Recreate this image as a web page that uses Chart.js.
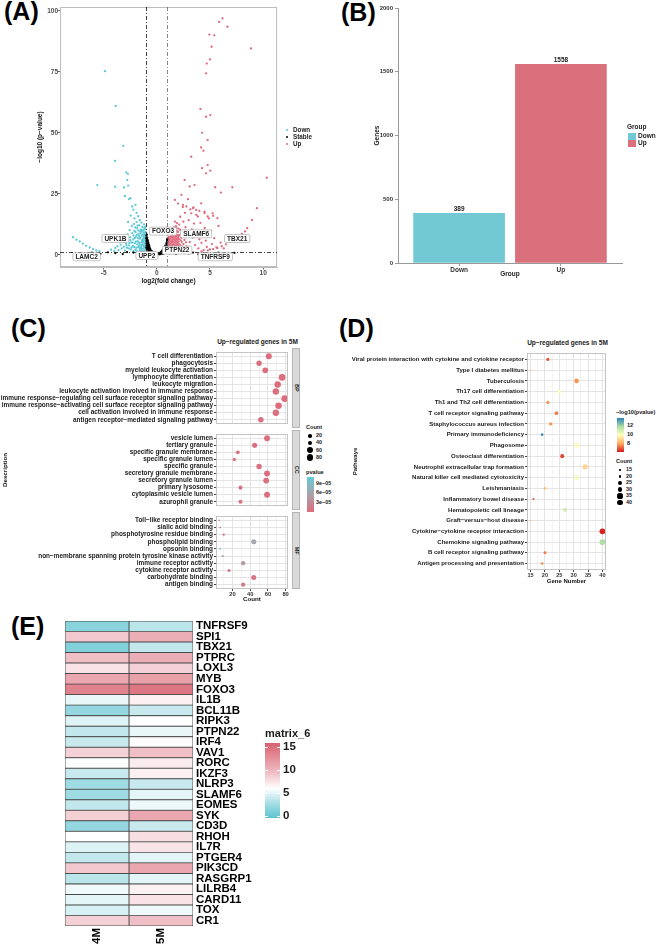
<!DOCTYPE html>
<html>
<head>
<meta charset="utf-8">
<title>Figure</title>
<script src="https://cdn.jsdelivr.net/npm/chart.js@4.4.1/dist/chart.umd.min.js"></script>
<style>
  html, body { margin: 0; padding: 0; background: #fff; }
  body { position: relative; width: 660px; height: 947px; overflow: hidden; font-family: "Liberation Sans", Arial, sans-serif; }
  canvas { position: absolute; }
  .t { position: absolute; font-weight: bold; white-space: nowrap; color: #1a1a1a; }
  .tag { position: absolute; font-weight: bold; font-size: 25px; line-height: 25px; color: #000; }
  .bar { position: absolute; }
</style>
</head>
<body>
<div class="tag" style="left:4px;top:-1px">(A)</div>
<div class="tag" style="left:341px;top:0px">(B)</div>
<div class="tag" style="left:11px;top:316px">(C)</div>
<div class="tag" style="left:339px;top:316px">(D)</div>
<div class="tag" style="left:11px;top:614px">(E)</div>

<canvas id="cA" width="252" height="286" style="left:30px;top:0px"></canvas>
<canvas id="cB" width="260" height="279" style="left:370px;top:0px"></canvas>
<canvas id="cBP" width="292" height="80" style="left:0px;top:348px"></canvas>
<canvas id="cCC" width="292" height="80" style="left:0px;top:430px"></canvas>
<canvas id="cMF" width="292" height="92" style="left:0px;top:512px"></canvas>
<canvas id="cD" width="260" height="237" style="left:350px;top:349px"></canvas>
<canvas id="cE" width="275" height="347" style="left:0px;top:600px"></canvas>

<script>
// ---------- (A) volcano ----------
const downPoints = [
  [-4.88, 75.3], [-3.86, 61.0], [-3.15, 44.7], [-3.92, 38.5], [-5.60, 28.6], [-2.87, 33.8],
  [-2.72, 33.2], [-2.78, 30.7], [-2.69, 28.4], [-3.09, 27.6], [-3.92, 27.9], [-2.47, 23.2],
  [-3.00, 24.1], [-2.31, 19.8], [-2.00, 20.5], [-2.60, 22.8], [-2.20, 18.5], [-1.90, 17.2],
  [-2.45, 16.1], [-1.75, 15.8], [-2.10, 14.9], [-1.60, 14.2], [-2.70, 13.5], [-1.45, 13.2],
  [-7.87, 7.2], [-7.55, 6.2], [-7.25, 5.5], [-6.95, 4.6], [-6.64, 3.7], [-6.30, 3.0],
  [-6.00, 2.3], [-5.70, 1.8], [-5.40, 1.5], [-4.30, 2.1], [-4.00, 1.6], [-3.90, 2.8],
  [-3.70, 3.5], [-3.60, 1.9], [-3.40, 4.2], [-3.30, 2.6], [-3.20, 5.4], [-3.10, 3.3],
  [-3.00, 1.8], [-2.95, 6.8], [-2.90, 4.6], [-2.80, 2.9], [-2.75, 8.4], [-2.70, 5.7],
  [-2.60, 3.9], [-2.55, 10.1], [-2.50, 7.2], [-2.45, 2.2], [-2.40, 5.1], [-2.35, 11.8],
  [-2.30, 8.9], [-2.25, 3.6], [-2.20, 6.3], [-2.15, 12.6], [-2.10, 9.8], [-2.05, 4.7],
  [-2.00, 2.0], [-1.95, 7.5], [-1.90, 13.4], [-1.85, 10.9], [-1.80, 5.6], [-1.75, 3.1],
  [-1.70, 8.6], [-1.65, 12.1], [-1.60, 6.6], [-1.55, 4.2], [-1.50, 10.3], [-1.45, 2.4],
  [-1.40, 7.9], [-1.35, 11.4], [-1.30, 5.3], [-1.25, 3.5], [-1.20, 9.1], [-1.15, 6.9],
  [-1.10, 2.9], [-1.08, 4.6], [-1.05, 8.1], [-1.30, 1.7], [-1.60, 1.9], [-1.90, 1.6],
  [-2.20, 1.5], [-1.20, 12.5], [-1.50, 8.9], [-1.80, 12.0], [-1.10, 10.6], [-1.35, 9.6],
  [-1.70, 5.0], [-2.00, 9.3], [-1.25, 7.4], [-1.12, 1.8], [-1.02, 3.8], [-1.05, 6.0],
  [-1.15, 4.9], [-1.02, 2.4], [-1.22, 5.9], [-1.40, 3.9], [-1.40, 1.5],
  [-1.03, 5.2], [-1.04, 7.1], [-1.06, 9.4], [-1.07, 11.5], [-1.09, 3.3], [-1.13, 8.6],
  [-1.16, 11.0], [-1.18, 3.9], [-1.19, 7.9], [-1.23, 10.2], [-1.27, 2.6], [-1.28, 6.4],
  [-1.32, 8.4], [-1.33, 4.4], [-1.38, 6.0], [-1.42, 10.0], [-1.44, 5.2], [-1.48, 3.1],
  [-1.52, 7.0], [-1.56, 9.6], [-1.58, 2.7], [-1.63, 4.9], [-1.66, 7.7], [-1.68, 3.6],
  [-1.73, 10.0], [-1.78, 6.8], [-1.83, 4.3], [-1.87, 8.2], [-1.93, 2.9], [-1.97, 5.4],
  [-2.03, 11.2], [-2.07, 6.9], [-2.12, 3.1], [-2.18, 8.0], [-2.28, 5.0], [-2.38, 3.0],
  [-2.48, 6.0], [-2.58, 4.8], [-2.65, 2.6], [-2.85, 3.9]
];
const stablePoints = [
  [-0.98, 7.8], [-0.95, 6.5], [-0.92, 5.3], [-0.90, 7.0], [-0.88, 4.2], [-0.85, 6.0],
  [-0.82, 3.4], [-0.80, 5.1], [-0.77, 2.6], [-0.75, 4.3], [-0.72, 1.9], [-0.70, 3.5],
  [-0.66, 2.7], [-0.62, 1.5], [-0.60, 2.2], [-0.55, 1.1], [-0.50, 1.6], [-0.45, 0.8],
  [-0.40, 1.2], [-0.35, 0.5], [-0.30, 0.9], [-0.25, 0.3], [-0.20, 0.6], [-0.15, 0.2],
  [-0.10, 0.4], [0.00, 0.1], [0.10, 0.3], [0.20, 0.5], [0.25, 0.2], [0.30, 0.8],
  [0.35, 0.4], [0.40, 1.2], [0.45, 0.7], [0.50, 1.7], [0.55, 1.0], [0.60, 2.3],
  [0.65, 1.4], [0.70, 3.0], [0.75, 2.0], [0.80, 3.8], [0.85, 2.6], [0.90, 4.5],
  [0.95, 3.2], [0.98, 5.4], [0.92, 1.6], [-0.97, 1.0], [-0.93, 2.4], [-0.87, 1.3],
  [-0.99, 3.0], [-0.96, 4.6], [-0.94, 8.3], [0.96, 6.1], [0.15, 0.7], [0.60, 0.4],
  [-0.99, 6.8], [-0.97, 5.6], [-0.95, 3.9], [-0.93, 6.2], [-0.91, 3.0], [-0.89, 5.6],
  [-0.86, 4.8], [-0.84, 2.2], [-0.83, 4.6], [-0.79, 3.9], [-0.78, 1.4], [-0.74, 3.0],
  [-0.71, 2.4], [-0.68, 1.1], [-0.64, 2.0], [-0.58, 1.4], [-0.52, 0.7], [-0.48, 1.2],
  [-0.42, 0.4], [0.05, 0.5], [0.33, 0.3], [0.42, 0.5], [0.52, 0.6], [0.58, 1.3],
  [0.68, 2.0], [0.72, 1.1], [0.78, 2.8], [0.83, 1.8], [0.88, 3.5], [0.94, 2.3],
  [0.97, 4.2], [0.99, 6.6], [0.93, 5.0],
  [-7.20, 0.6], [-6.10, 0.9], [-5.30, 0.4], [-4.60, 1.0], [-3.90, 0.7], [-3.20, 0.3],
  [-2.80, 1.1], [-2.20, 0.9], [-1.80, 0.5], [-1.40, 1.0], [-1.20, 0.4], [1.20, 0.6],
  [1.50, 1.0], [1.80, 0.3], [2.20, 0.8], [2.60, 1.1], [3.00, 0.5], [3.40, 0.9],
  [3.90, 0.2], [4.40, 0.7], [5.00, 0.4], [5.80, 0.9], [6.50, 0.3], [7.30, 0.8]
];
const upPoints = [
  [1.05, 1.6], [1.05, 2.6], [1.05, 3.6], [1.05, 4.6], [1.08, 5.5], [1.10, 6.4], [1.12, 7.3],
  [1.30, 1.5], [1.30, 2.5], [1.28, 3.5], [1.30, 4.5], [1.32, 5.5], [1.30, 6.5], [1.33, 7.5], [1.35, 8.2],
  [1.55, 1.4], [1.55, 2.4], [1.52, 3.4], [1.56, 4.4], [1.54, 5.4], [1.57, 6.4], [1.55, 7.4], [1.60, 8.4],
  [1.80, 1.5], [1.80, 2.5], [1.78, 3.5], [1.82, 4.5], [1.80, 5.5], [1.83, 6.5], [1.79, 7.5], [1.85, 8.3],
  [2.05, 1.4], [2.05, 2.4], [2.02, 3.4], [2.07, 4.4], [2.05, 5.4], [2.08, 6.4], [2.04, 7.4], [2.10, 8.1],
  [1.18, 2.0], [1.18, 3.0], [1.18, 4.0], [1.18, 5.0], [1.20, 6.0], [1.20, 7.0], [1.43, 2.0],
  [1.43, 3.0], [1.43, 4.0], [1.43, 5.0], [1.45, 6.0], [1.45, 7.0], [1.47, 8.0], [1.68, 2.0],
  [1.68, 3.0], [1.68, 4.0], [1.68, 5.0], [1.70, 6.0], [1.70, 7.0], [1.72, 8.0], [1.93, 2.0],
  [1.93, 3.0], [1.93, 4.0], [1.93, 5.0], [1.95, 6.0], [1.95, 7.0], [1.97, 8.0], [1.10, 1.5],
  [2.15, 1.9], [2.20, 4.0], [2.25, 5.9], [1.65, 9.0], [1.90, 9.8], [2.05, 10.7], [1.55, 10.0],
  [1.80, 11.7], [2.30, 8.7], [2.60, 9.9], [2.75, 5.1], [2.50, 4.4],
  [1.70, 13.6], [1.90, 13.0], [2.10, 12.4], [1.60, 11.2], [1.85, 10.9], [2.20, 10.2], [1.75, 9.6],
  [2.00, 9.3], [2.30, 7.0], [2.35, 5.2], [2.40, 3.3], [2.45, 1.6],
  [2.60, 6.1], [2.70, 11.3], [2.80, 3.4], [2.90, 8.7], [3.00, 14.2], [3.10, 5.2], [3.20, 2.3],
  [3.30, 10.4], [3.40, 7.1], [3.50, 12.8], [3.60, 4.0], [3.70, 16.4], [3.80, 9.2], [3.90, 2.6],
  [4.00, 6.3], [4.10, 13.1], [4.20, 4.9], [4.30, 8.4], [4.40, 1.9], [4.50, 11.0], [4.60, 5.8],
  [4.70, 3.2], [4.80, 7.6], [4.90, 14.9], [5.00, 2.2], [5.10, 9.8], [5.20, 4.4], [5.40, 6.8],
  [5.60, 3.0], [5.80, 11.8], [6.00, 5.0], [6.30, 2.6], [6.60, 8.0], [2.50, 13.6], [2.65, 17.2],
  [3.15, 18.6], [2.20, 15.6], [2.45, 19.6], [3.45, 19.4], [4.00, 18.0], [4.50, 17.1], [5.30, 16.0],
  [4.20, 1.4], [4.80, 1.8], [5.30, 2.3], [5.70, 2.8], [6.10, 3.5], [6.50, 4.3], [6.90, 5.3],
  [7.30, 6.4], [7.70, 7.6], [8.00, 8.6], [8.30, 9.6], [8.50, 10.9], [8.95, 14.3],
  [6.17, 96.9], [5.86, 95.5], [6.64, 93.5], [4.94, 90.3], [5.40, 90.0], [8.86, 84.6], [5.15, 85.3],
  [5.00, 80.1], [4.70, 78.4], [4.63, 74.4], [4.10, 59.8], [5.03, 57.3], [4.63, 56.6], [4.26, 50.0],
  [4.78, 47.0], [4.17, 44.0], [3.24, 40.2], [4.38, 42.7], [4.26, 35.5], [5.03, 34.5], [4.63, 33.4],
  [10.34, 31.6], [2.62, 30.7], [4.78, 36.8], [3.55, 28.6], [3.09, 28.0], [7.10, 27.7], [5.49, 27.7],
  [6.02, 25.5], [2.31, 24.6], [2.93, 22.8], [4.17, 21.1], [9.41, 19.1], [5.25, 17.0], [1.70, 22.5],
  [2.00, 21.0], [2.47, 20.5], [2.78, 19.8], [3.40, 19.1], [3.70, 18.4], [4.48, 17.7], [4.78, 15.7],
  [3.86, 15.7], [3.24, 17.0], [5.70, 15.0]
];
const volcanoXTicks = [-5, 0, 5, 10];
const volcanoYTicks = [0, 25, 50, 75, 100];
const fcCut = [-1, 1];
const pCut = 1.3;
const geneTags = ['UPK1B', 'FOXO3', 'SLAMF6', 'TBX21', 'LAMC2', 'UPP2', 'PTPN22', 'TNFRSF9'];
const geneTagX = [-3.89, 0.59, 3.70, 7.56, -6.60, -0.93, 1.91, 5.50];
const geneTagY = [6.7, 9.7, 8.6, 6.7, -0.8, -0.3, 1.9, -0.8];

// ---------- (B) bar ----------
const groups = ['Down', 'Up'];
const groupCounts = [389, 1558];

// ---------- (C) GO dot plot ----------
const bpTerms = ['T cell differentiation', 'phagocytosis', 'myeloid leukocyte activation', 'lymphocyte differentiation',
  'leukocyte migration', 'leukocyte activation involved in immune response',
  'immune response\u2212regulating cell surface receptor signaling pathway',
  'immune response\u2212activating cell surface receptor signaling pathway',
  'cell activation involved in immune response', 'antigen receptor\u2212mediated signaling pathway'];
const bpCounts = [61, 50, 57, 76, 71, 69, 79, 72, 69, 52];
const bpP = [2e-6, 5e-6, 3e-6, 1e-6, 1e-6, 2e-6, 1e-6, 1e-6, 2e-6, 6e-6];
const ccTerms = ['vesicle lumen', 'tertiary granule', 'specific granule membrane', 'specific granule lumen',
  'specific granule', 'secretory granule membrane', 'secretory granule lumen', 'primary lysosome',
  'cytoplasmic vesicle lumen', 'azurophil granule'];
const ccCounts = [59, 45, 26, 22, 50, 59, 58, 29, 59, 29];
const ccP = [3e-6, 4e-6, 8e-6, 9e-6, 4e-6, 3e-6, 3e-6, 7e-6, 3e-6, 7e-6];
const mfTerms = ['Toll\u2212like receptor binding', 'sialic acid binding', 'phosphotyrosine residue binding',
  'phospholipid binding', 'opsonin binding', 'non\u2212membrane spanning protein tyrosine kinase activity',
  'immune receptor activity', 'cytokine receptor activity', 'carbohydrate binding', 'antigen binding'];
const mfCounts = [5, 6, 10, 44, 6, 9, 32, 16, 44, 32];
const mfP = [1e-5, 2.5e-5, 1e-5, 6e-5, 1.05e-4, 6.5e-5, 4.5e-5, 1.2e-5, 1e-5, 1.5e-5];
const goXTicks = [10, 20, 30, 40, 50, 60, 70, 80];
const goSizeKeys = [20, 40, 60, 80];
const goPKeys = [9e-5, 6e-5, 3e-5];

// ---------- (D) KEGG dot plot ----------
const keggTerms = ['Viral protein interaction with cytokine and cytokine receptor', 'Type I diabetes mellitus',
  'Tuberculosis', 'Th17 cell differentiation', 'Th1 and Th2 cell differentiation', 'T cell receptor signaling pathway',
  'Staphylococcus aureus infection', 'Primary immunodeficiency', 'Phagosome', 'Osteoclast differentiation',
  'Neutrophil extracellular trap formation', 'Natural killer cell mediated cytotoxicity', 'Leishmaniasis',
  'Inflammatory bowel disease', 'Hematopoietic cell lineage', 'Graft\u2212versus\u2212host disease',
  'Cytokine\u2212cytokine receptor interaction', 'Chemokine signaling pathway', 'B cell receptor signaling pathway',
  'Antigen processing and presentation'];
const keggCounts = [21, 15, 31, 25, 21, 24, 22, 19, 31, 26, 34, 31, 20, 16, 27, 15, 40, 40, 20, 19];
const keggLogP = [7.0, 8.6, 7.8, 10.0, 7.8, 7.5, 7.8, 13.5, 9.9, 6.8, 9.0, 10.3, 8.5, 6.8, 11.0, 8.5, 6.3, 11.8, 7.4, 7.7];
const keggXTicks = [15, 17.5, 20, 22.5, 25, 27.5, 30, 32.5, 35, 37.5, 40];
const keggSizeKeys = [15, 20, 25, 30, 35, 40];
const keggPKeys = [12, 10, 8];

// ---------- (E) heatmap ----------
const heatGenes = ['TNFRSF9', 'SPI1', 'TBX21', 'PTPRC', 'LOXL3', 'MYB', 'FOXO3', 'IL1B', 'BCL11B', 'RIPK3',
  'PTPN22', 'IRF4', 'VAV1', 'RORC', 'IKZF3', 'NLRP3', 'SLAMF6', 'EOMES', 'SYK', 'CD3D', 'RHOH', 'IL7R',
  'PTGER4', 'PIK3CD', 'RASGRP1', 'LILRB4', 'CARD11', 'TOX', 'CR1'];
const heatCols = ['4M', '5M'];
const expr4M = [1.5, 9, 1.2, 9.5, 7.5, 11, 13.5, 5.2, 2, 4.8, 3.8, 4, 8.5, 5.9, 4, 2.4, 2.4, 3.8, 8.6, 2, 6, 4.8, 3.8, 9, 3.5, 5.5, 5, 4.5, 8.5];
const expr5M = [3.5, 10.5, 3.8, 10.5, 8.5, 11.5, 14.5, 6.8, 4, 6, 5.2, 6.2, 9.5, 7, 6.8, 4, 5, 5.3, 11, 4, 7.8, 7.4, 5, 11, 5, 6.7, 7.5, 5.5, 9.5];
const heatKeys = [15, 10, 5, 0];

// ---------- colours ----------
const CYAN = '#5cc8d6', RED = '#e06a7c';
const goStops = [[0, '#e06b7c'], [5.5e-5, '#a9a3ab'], [1.1e-4, '#63cbd8']];
const keggStops = [[6.2, '#d7191c'], [8.1, '#fdae61'], [10, '#ffffbf'], [11.9, '#abdda4'], [13.8, '#2b83ba']];
const heatStops = [[-0.4, '#5cc3d0'], [3, '#ace0e6'], [6, '#ffffff'], [10, '#eeb5bd'], [15.9, '#d8616f']];

Chart.defaults.font.family = '"Liberation Sans", Arial, sans-serif';
Chart.defaults.animation = false;
Chart.defaults.events = [];
Chart.defaults.plugins.legend.display = false;
Chart.defaults.plugins.tooltip.enabled = false;

function hexRgb(h) { const n = parseInt(h.slice(1), 16); return [n >> 16, (n >> 8) & 255, n & 255]; }
function ramp(stops, v) {
  if (v <= stops[0][0]) return stops[0][1];
  for (let i = 1; i < stops.length; i++) {
    if (v <= stops[i][0]) {
      const t = (v - stops[i - 1][0]) / (stops[i][0] - stops[i - 1][0]);
      const a = hexRgb(stops[i - 1][1]), b = hexRgb(stops[i][1]);
      return 'rgb(' + a.map((c, k) => Math.round(c + (b[k] - c) * t)).join(',') + ')';
    }
  }
  return stops[stops.length - 1][1];
}
function rampCss(stops) {
  const lo = stops[0][0], hi = stops[stops.length - 1][0];
  return 'linear-gradient(to top,' + stops.map(s => s[1] + ' ' + ((s[0] - lo) / (hi - lo) * 100).toFixed(1) + '%').join(',') + ')';
}
const goRadius = n => Math.sqrt(0.64 + (n - 5) * 0.147);
const keggRadius = n => Math.sqrt(0.64 + (n - 15) * 0.31);

// fixed axis sizes so the panels line up like the original
const fixW = w => s => { s.width = w; s.paddingTop = 0; s.paddingBottom = 0; s.paddingLeft = 0; s.paddingRight = 0; };
const fixH = h => s => { s.height = h; s.paddingTop = 0; s.paddingBottom = 0; s.paddingLeft = 0; s.paddingRight = 0; };
const setTicks = arr => s => { s.ticks = arr.map(v => ({ value: v })); };

const framePlugin = {
  id: 'frame',
  afterDatasetsDraw(chart, args, opts) {
    const a = chart.chartArea, c = chart.ctx;
    c.save();
    c.strokeStyle = opts.color || '#bbb';
    c.lineWidth = 1;
    c.strokeRect(a.left + 0.5, a.top + 0.5, a.right - a.left - 1, a.bottom - a.top - 1);
    c.restore();
  }
};

function txt(s, x, cy, size, opt) {
  opt = opt || {};
  const d = document.createElement('div');
  d.className = 't';
  d.textContent = s;
  d.style.fontSize = size + 'px';
  d.style.lineHeight = size + 'px';
  d.style.top = (cy - size / 2) + 'px';
  d.style.left = x + 'px';
  if (opt.center) d.style.transform = 'translateX(-50%)';
  document.body.appendChild(d);
  return d;
}
function box(x, y, w, h, bg, extra) {
  const d = document.createElement('div');
  d.className = 'bar';
  Object.assign(d.style, { left: x + 'px', top: y + 'px', width: w + 'px', height: h + 'px', background: bg }, extra || {});
  document.body.appendChild(d);
  return d;
}

// ===== (A) volcano =====
const volcanoDeco = {
  id: 'volcanoDeco',
  afterDatasetsDraw(chart) {
    const { ctx, chartArea: a, scales: { x, y } } = chart;
    ctx.save();
    ctx.lineWidth = 0.8;
    ctx.setLineDash([4, 2, 1, 2]);
    fcCut.forEach((v, i) => {
      const px = Math.round(x.getPixelForValue(v)) + 0.5;
      ctx.strokeStyle = i ? '#666' : '#111';
      ctx.beginPath(); ctx.moveTo(px, a.top); ctx.lineTo(px, a.bottom); ctx.stroke();
    });
    const py = Math.round(y.getPixelForValue(pCut)) + 0.5;
    ctx.strokeStyle = '#111';
    ctx.beginPath(); ctx.moveTo(a.left, py); ctx.lineTo(a.right, py); ctx.stroke();
    ctx.setLineDash([]);
    ctx.font = 'bold 6.5px "Liberation Sans", Arial, sans-serif';
    ctx.textAlign = 'center';
    ctx.textBaseline = 'middle';
    geneTags.forEach((g, i) => {
      const cx = x.getPixelForValue(geneTagX[i]), cy = y.getPixelForValue(geneTagY[i]);
      const w = ctx.measureText(g).width + 5, h = 8;
      ctx.fillStyle = '#fff';
      ctx.strokeStyle = '#aaa';
      ctx.lineWidth = 0.7;
      ctx.beginPath();
      ctx.roundRect(cx - w / 2, cy - h / 2, w, h, 1.5);
      ctx.fill(); ctx.stroke();
      ctx.fillStyle = '#222';
      ctx.fillText(g, cx, cy + 0.3);
    });
    ctx.restore();
  }
};
const pts = arr => arr.map(p => ({ x: p[0], y: p[1] }));
new Chart(document.getElementById('cA'), {
  type: 'scatter',
  data: {
    datasets: [
      { label: 'Stable', data: pts(stablePoints), backgroundColor: '#000', pointRadius: 1.15, borderWidth: 0 },
      { label: 'Down', data: pts(downPoints), backgroundColor: CYAN, pointRadius: 1.15, borderWidth: 0 },
      { label: 'Up', data: pts(upPoints), backgroundColor: RED, pointRadius: 1.15, borderWidth: 0 }
    ]
  },
  options: {
    responsive: false,
    layout: { padding: { top: 7, right: 5 } },
    scales: {
      x: {
        type: 'linear', min: -9.1, max: 11.3, afterBuildTicks: setTicks(volcanoXTicks), afterFit: fixH(19),
        grid: { drawOnChartArea: false, tickLength: 2.5, color: '#666' }, border: { color: '#bbb' },
        ticks: { font: { size: 6.5, weight: 'bold' }, color: '#4d4d4d', padding: 0, maxRotation: 0 },
        title: { display: true, text: 'log2(fold change)', font: { size: 6.5, weight: 'bold' }, color: '#111', padding: { top: 0, bottom: 1 } }
      },
      y: {
        type: 'linear', min: -5, max: 101.6, afterBuildTicks: setTicks(volcanoYTicks), afterFit: fixW(30),
        grid: { drawOnChartArea: false, tickLength: 2, color: '#666' }, border: { color: '#bbb' },
        ticks: { font: { size: 6.5, weight: 'bold' }, color: '#4d4d4d', padding: 0 },
        title: { display: true, text: '\u2212log10 (p\u2212value)', font: { size: 6.5, weight: 'bold' }, color: '#111', padding: { top: 6, bottom: 0 } }
      }
    },
    plugins: { frame: { color: '#bdbdbd' } }
  },
  plugins: [framePlugin, volcanoDeco]
});
// legend A
[['Down', CYAN], ['Stable', '#000'], ['Up', RED]].forEach((it, i) => {
  const cy = 130 + i * 7.2;
  box(286, cy - 1, 2, 2, it[1], { borderRadius: '50%' });
  txt(it[0], 293, cy, 6.3);
});

// ===== (B) bar =====
const barLabels = {
  id: 'barLabels',
  afterDatasetsDraw(chart) {
    const { ctx } = chart;
    ctx.save();
    ctx.font = 'bold 6.5px "Liberation Sans", Arial, sans-serif';
    ctx.fillStyle = '#222';
    ctx.textAlign = 'center';
    ctx.textBaseline = 'bottom';
    chart.getDatasetMeta(0).data.forEach((el, i) => ctx.fillText(groupCounts[i], el.x, el.y - 0.5));
    ctx.restore();
  }
};
new Chart(document.getElementById('cB'), {
  type: 'bar',
  data: {
    datasets: [{
      data: groups.map((g, i) => ({ x: i + 1, y: groupCounts[i] })),
      backgroundColor: ['#73c9d3', '#d9707c'], barThickness: 91, borderWidth: 0
    }]
  },
  options: {
    responsive: false,
    layout: { padding: { top: 8, right: 8 } },
    scales: {
      x: {
        type: 'linear', min: 0.4, max: 2.6, offset: false, afterBuildTicks: setTicks([1, 2]), afterFit: fixH(16),
        grid: { drawOnChartArea: false, offset: false, tickLength: 3, color: '#999' }, border: { color: '#999' },
        ticks: { callback: v => groups[v - 1], font: { size: 6.5, weight: 'bold' }, color: '#333', padding: 0, maxRotation: 0 },
        title: { display: true, text: 'Group', font: { size: 6.5, weight: 'bold' }, color: '#222', padding: { top: 0, bottom: 1 } }
      },
      y: {
        min: 0, max: 2000, afterBuildTicks: setTicks([0, 500, 1000, 1500, 2000]), afterFit: fixW(28),
        grid: { drawOnChartArea: false, tickLength: 3, color: '#999' }, border: { color: '#999' },
        ticks: { callback: v => String(v), font: { size: 6, weight: 'bold' }, color: '#333', padding: 2 },
        title: { display: true, text: 'Genes', font: { size: 6.5, weight: 'bold' }, color: '#222', padding: { top: 3, bottom: 0 } }
      }
    }
  },
  plugins: [barLabels]
});
txt('Group', 627, 127, 6.5);
box(628, 132.5, 8, 7, '#73c9d3');
box(628, 140.2, 8, 7, '#d9707c');
txt('Down', 638, 136, 6.5);
txt('Up', 638, 143.7, 6.5);

// ===== (C) GO facets =====
function goFacet(id, terms, counts, pvals, showX, yTitle) {
  return new Chart(document.getElementById(id), {
    type: 'scatter',
    data: {
      datasets: [{
        data: terms.map((t, i) => ({ x: counts[i], y: i })),
        pointRadius: c => goRadius(counts[c.dataIndex]),
        backgroundColor: c => ramp(goStops, pvals[c.dataIndex]),
        borderWidth: 0
      }]
    },
    options: {
      responsive: false,
      layout: { padding: 0 },
      scales: {
        x: {
          type: 'linear', min: 1.3, max: 82.7, afterBuildTicks: setTicks(goXTicks), afterFit: fixH(showX ? 15 : 0),
          grid: {
            color: c => (c.tick && c.tick.value % 20) ? '#f3f3f3' : '#e4e4e4',
            tickColor: c => (c.tick && c.tick.value % 20) ? 'rgba(0,0,0,0)' : '#444',
            drawTicks: showX, tickLength: 2
          },
          border: { display: false },
          ticks: { display: showX, callback: v => v % 20 ? '' : v, font: { size: 5.8, weight: 'bold' }, color: '#333', padding: 0, maxRotation: 0, autoSkip: false },
          title: { display: showX, text: 'Count', font: { size: 6.2, weight: 'bold' }, color: '#111', padding: { top: 0, bottom: 1 } }
        },
        y: {
          type: 'linear', reverse: true, min: -0.6, max: terms.length - 0.4,
          afterBuildTicks: setTicks(terms.map((t, i) => i)), afterFit: fixW(216),
          grid: { color: '#e4e4e4', tickColor: '#444', tickLength: 2 },
          border: { display: false },
          ticks: { callback: v => terms[v], autoSkip: false, font: { size: 6.45, weight: 'bold' }, color: '#1a1a1a', padding: 1 },
          title: { display: !!yTitle, text: yTitle || '', font: { size: 6.2, weight: 'bold' }, color: '#111', padding: { top: 2, bottom: 0 } }
        }
      },
      plugins: { frame: { color: '#c4c4c4' } }
    },
    plugins: [framePlugin]
  });
}
goFacet('cBP', bpTerms, bpCounts, bpP, false, '');
goFacet('cCC', ccTerms, ccCounts, ccP, false, 'Description');
goFacet('cMF', mfTerms, mfCounts, mfP, true, '');
[['BP', 348, 80], ['CC', 430, 80], ['MF', 512, 77]].forEach(s => {
  box(292, s[1], 8, s[2], '#d9d9d9', { border: '1px solid #b5b5b5', boxSizing: 'border-box' });
  const d = txt(s[0], 296, s[1] + s[2] / 2, 5.5);
  d.style.transform = 'translate(-50%,0) rotate(90deg)';
});
txt('Up\u2212regulated genes in 5M', 257.5, 342.7, 6.5, { center: true });
// legend C
txt('Count', 306, 428, 5.6);
goSizeKeys.forEach((n, i) => {
  const r = goRadius(n), cy = 436 + i * 7.1;
  box(310 - r, cy - r, 2 * r, 2 * r, '#000', { borderRadius: '50%' });
  txt(String(n), 316, cy, 5.4);
});
txt('pvalue', 306, 472.3, 5.6);
box(307, 477, 6.5, 35, rampCss(goStops));
goPKeys.forEach(p => {
  const cy = 477 + (1.1e-4 - p) / 1.1e-4 * 35;
  txt(p.toExponential(0).replace('e-', 'e\u22120'), 316, cy, 5.4);
});

// ===== (D) KEGG =====
new Chart(document.getElementById('cD'), {
  type: 'scatter',
  data: {
    datasets: [{
      data: keggTerms.map((t, i) => ({ x: keggCounts[i], y: i })),
      pointRadius: c => keggRadius(keggCounts[c.dataIndex]),
      backgroundColor: c => ramp(keggStops, keggLogP[c.dataIndex]),
      borderWidth: 0
    }]
  },
  options: {
    responsive: false,
    layout: { padding: 0 },
    scales: {
      x: {
        type: 'linear', min: 13.75, max: 41.25, afterBuildTicks: setTicks(keggXTicks), afterFit: fixH(16),
        grid: {
          color: c => (c.tick && c.tick.value % 5) ? '#f3f3f3' : '#e4e4e4',
          tickColor: c => (c.tick && c.tick.value % 5) ? 'rgba(0,0,0,0)' : '#444', tickLength: 2
        },
        border: { display: false },
        ticks: { callback: v => v % 5 ? '' : v, autoSkip: false, font: { size: 5.6, weight: 'bold' }, color: '#333', padding: 0, maxRotation: 0 },
        title: { display: true, text: 'Gene Number', font: { size: 6, weight: 'bold' }, color: '#111', padding: { top: 0, bottom: 1 } }
      },
      y: {
        type: 'linear', reverse: true, min: -0.6, max: keggTerms.length - 0.4,
        afterBuildTicks: setTicks(keggTerms.map((t, i) => i)), afterFit: fixW(177),
        grid: { color: '#e4e4e4', tickColor: '#444', tickLength: 2 },
        border: { display: false },
        ticks: { callback: v => keggTerms[v], autoSkip: false, font: { size: 6.05, weight: 'bold' }, color: '#1a1a1a', padding: 1 },
        title: { display: true, text: 'Pathways', font: { size: 6, weight: 'bold' }, color: '#111', padding: { top: 1.5, bottom: 0 } }
      }
    },
    plugins: { frame: { color: '#c4c4c4' } }
  },
  plugins: [framePlugin]
});
txt('Up\u2212regulated genes in 5M', 567.5, 343, 6.5, { center: true });
// legend D
txt('\u2212log10(pvalue)', 616, 413, 5.6);
box(617, 418, 6.5, 34, rampCss(keggStops));
keggPKeys.forEach(v => txt(String(v), 627, 418 + (13.8 - v) / 7.6 * 34, 5.6));
txt('Count', 616, 462, 5.6);
keggSizeKeys.forEach((n, i) => {
  const r = keggRadius(n), cy = 470 + i * 6.5;
  box(620 - r, cy - r, 2 * r, 2 * r, '#000', { borderRadius: '50%' });
  txt(String(n), 626, cy, 5.4);
});

// ===== (E) heatmap =====
const heatVals = [expr4M, expr5M];
new Chart(document.getElementById('cE'), {
  type: 'bar',
  data: {
    labels: heatGenes,
    datasets: heatCols.map((col, j) => ({
      label: col,
      data: heatGenes.map(() => [j, j + 1]),
      backgroundColor: heatVals[j].map(v => ramp(heatStops, v)),
      borderColor: '#4a4a4a', borderWidth: 0.8, borderSkipped: false,
      grouped: false, barPercentage: 1, categoryPercentage: 1
    }))
  },
  options: {
    indexAxis: 'y',
    responsive: false,
    layout: { padding: { left: 65, top: 21 } },
    scales: {
      x: {
        type: 'linear', min: 0, max: 2, afterBuildTicks: setTicks(heatCols.map((c, j) => j + 0.5)), afterFit: fixH(21),
        grid: { display: false, drawTicks: false }, border: { display: false },
        ticks: { callback: v => heatCols[Math.round(v - 0.5)], minRotation: 90, maxRotation: 90, font: { size: 11.5, weight: 'bold' }, color: '#000', padding: 2, autoSkip: false }
      },
      y: {
        position: 'right', afterFit: fixW(82),
        grid: { display: false, drawTicks: false }, border: { display: false },
        ticks: { autoSkip: false, font: { size: 11.5, weight: 'bold' }, color: '#000', padding: 3 }
      }
    }
  }
});
// legend E
txt('matrix_6', 265, 733, 11);
box(265, 743, 15, 75, rampCss(heatStops));
heatKeys.forEach(v => {
  const cy = 743 + (15.9 - v) / 16.3 * 75;
  box(265, cy - 0.5, 3, 1, '#fff');
  box(277, cy - 0.5, 3, 1, '#fff');
  txt(String(v), 283, cy, 11.5);
});
</script>
</body>
</html>
